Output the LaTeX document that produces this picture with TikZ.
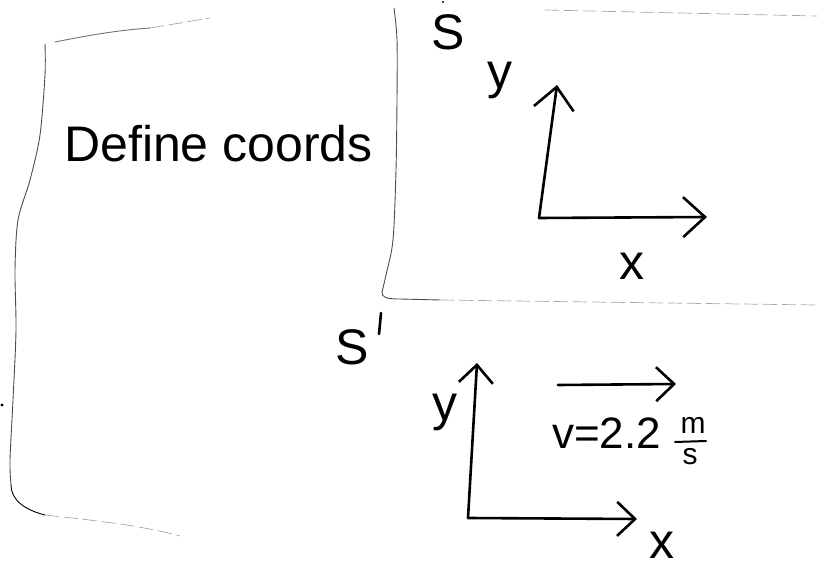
\documentclass[tikz,border=0pt]{standalone}
\usepackage{fontspec}
\setmainfont{Liberation Sans}
\usetikzlibrary{arrows.meta}
\tikzset{
  axis/.style={line width=2.6pt, line cap=round, line join=round, -{Straight Barb[length=22pt,width=40pt,line width=2.6pt]}},
  axissmall/.style={line width=2.6pt, line cap=round, line join=round, -{Straight Barb[length=18pt,width=34pt,line width=2.6pt]}},
  faint/.style={line width=0.9pt, black!70, line cap=round},
  fainter/.style={line width=0.7pt, black!35, dashed, dash pattern=on 14pt off 5pt},
  hand/.style={inner sep=0pt, font=\fontsize{50}{50}\selectfont},
  handsmall/.style={inner sep=0pt, font=\fontsize{44}{44}\selectfont},
  handtiny/.style={inner sep=0pt, font=\fontsize{30}{30}\selectfont},
}
\begin{document}
\begin{tikzpicture}[x=1pt,y=-1pt]
\useasboundingbox (0,0) rectangle (817,569);
% left box
\draw[faint] plot[smooth] coordinates {(45,44) (45,75) (40,135) (30,180) (18,220) (15,270) (16,330) (13,400) (10,460) (11,485)};
\draw[faint, black] (11,485) .. controls (11,500) and (25,510) .. (45,515);
\draw[fainter] (45,515) .. controls (90,520) and (140,525) .. (180,536);
\draw[faint, black!55] (55,42) .. controls (90,35) and (120,30) .. (150,28);
\draw[fainter] (150,28) -- (210,18);
% right edge of box and separators
\draw[faint] plot[smooth] coordinates {(394,8) (397,40) (397,100) (396,170) (393,240) (386,275) (382,292)};
\draw[faint] (382,292) .. controls (382,297) and (385,299) .. (400,299) -- (440,300);
\draw[fainter] (440,300) -- (817,305);
\draw[fainter] (545,10) -- (817,16);
\fill (2,405) circle (1.6pt);
% labels
\node[hand, anchor=base west] (define) at (64,162) {Define coords};
\node[hand] (S) at (448,32) {S};
\fill (443,2) circle (1.2pt);
\node[hand] (Sp) at (352,347) {S};
\draw[line width=2.6pt, line cap=round] (381,313) -- (379,334);
% upper axes
\coordinate (o1) at (539,218);
\coordinate (y1) at (557,85);
\coordinate (x1) at (707,217);
\draw[axis] (o1) -- (y1);
\draw[axis] (o1) -- (x1);
\node[hand] (ylab1) at (500,80) {y};
\node[hand] (xlab1) at (632,266) {x};
% lower axes
\coordinate (o2) at (468,518);
\coordinate (y2) at (477,363);
\coordinate (x2) at (637,519);
\draw[axissmall] (o2) -- (y2);
\draw[axissmall] (o2) -- (x2);
\node[hand] (ylab2) at (445,412) {y};
\node[hand] (xlab2) at (662,545) {x};
% velocity
\coordinate (v0) at (558,385);
\coordinate (v1) at (676,384);
\draw[axissmall] (v0) -- (v1);
\node[handsmall, anchor=base west] (vlab) at (552,448) {v=2.2};
\node[handtiny, anchor=base] (mlab) at (693,433) {m};
\node[handtiny, anchor=base] (slab) at (690,464) {s};
\draw[line width=2pt, line cap=round] (675,442) -- (706,441);
\end{tikzpicture}
\end{document}
